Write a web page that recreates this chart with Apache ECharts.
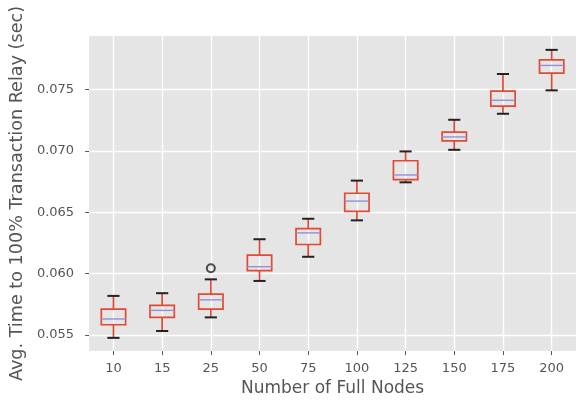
<!DOCTYPE html>
<html><head><meta charset="utf-8">
<script src="https://cdn.jsdelivr.net/npm/echarts@6/dist/echarts.min.js"></script>
<style>html,body{margin:0;padding:0;background:#fff}#c{width:576px;height:402px}</style>
</head><body><div id="c"></div>
<script>
const categories = ['10','15','25','50','75','100','125','150','175','200'];
const whiskerLow  = [0.05476, 0.05532, 0.05643, 0.05940, 0.06137, 0.06434, 0.06744, 0.07009, 0.07303, 0.07494];
const q1          = [0.05583, 0.05643, 0.05711, 0.06024, 0.06237, 0.06507, 0.06766, 0.07082, 0.07365, 0.07635];
const median      = [0.05630, 0.05700, 0.05786, 0.06056, 0.06332, 0.06591, 0.06804, 0.07114, 0.07413, 0.07697];
const q3          = [0.05711, 0.05740, 0.05832, 0.06150, 0.06366, 0.06655, 0.06920, 0.07154, 0.07487, 0.07743];
const whiskerHigh = [0.05818, 0.05840, 0.05953, 0.06280, 0.06447, 0.06758, 0.06996, 0.07254, 0.07627, 0.07824];
const outliers = [[2, 0.06043]];
const yTicks = [0.055, 0.060, 0.065, 0.070, 0.075];

const boxData = categories.map((c, i) => [i, whiskerLow[i], q1[i], median[i], q3[i], whiskerHigh[i]]);

const RED = '#E24A33', MED = '#988ED5', CAP = '#222222';
const FONT = 'DejaVu Sans';

function renderBox(params, api) {
  const x = api.value(0);
  const pLow = api.coord([x, api.value(1)]);
  const pQ1 = api.coord([x, api.value(2)]);
  const pMed = api.coord([x, api.value(3)]);
  const pQ3 = api.coord([x, api.value(4)]);
  const pHigh = api.coord([x, api.value(5)]);
  const band = api.size([1, 0])[0];
  const bw = band * 0.5, cw = bw / 2;
  const cx = pMed[0];
  return {
    type: 'group',
    children: [
      {type: 'line', shape: {x1: cx, y1: pQ3[1], x2: cx, y2: pHigh[1]}, style: {stroke: RED, lineWidth: 1.7}},
      {type: 'line', shape: {x1: cx, y1: pQ1[1], x2: cx, y2: pLow[1]}, style: {stroke: RED, lineWidth: 1.7}},
      {type: 'rect', shape: {x: cx - bw / 2, y: pQ3[1], width: bw, height: pQ1[1] - pQ3[1]}, style: {fill: 'none', stroke: RED, lineWidth: 1.7}},
      {type: 'line', shape: {x1: cx - bw / 2, y1: pMed[1], x2: cx + bw / 2, y2: pMed[1]}, style: {stroke: MED, lineWidth: 1.4}},
      {type: 'line', shape: {x1: cx - cw / 2, y1: pHigh[1], x2: cx + cw / 2, y2: pHigh[1]}, style: {stroke: CAP, lineWidth: 2}},
      {type: 'line', shape: {x1: cx - cw / 2, y1: pLow[1], x2: cx + cw / 2, y2: pLow[1]}, style: {stroke: CAP, lineWidth: 2}}
    ]
  };
}

const chart = echarts.init(document.getElementById('c'), null, {renderer: 'canvas'});
chart.setOption({
  backgroundColor: '#ffffff',
  animation: false,
  textStyle: {fontFamily: FONT},
  grid: {left: 87, top: 36, width: 494, height: 317, show: true, backgroundColor: '#E5E5E5', borderWidth: 0, containLabel: false},
  xAxis: {
    type: 'category', data: categories, boundaryGap: true,
    name: 'Number of Full Nodes', nameLocation: 'middle', nameGap: 27,
    nameTextStyle: {fontSize: 17, color: '#555555', fontFamily: FONT},
    axisLine: {show: false},
    axisTick: {show: true, alignWithLabel: true, length: 4, lineStyle: {color: '#555555'}},
    axisLabel: {fontSize: 13, color: '#555555', margin: 11, fontFamily: FONT},
    splitLine: {show: true, alignWithLabel: true, lineStyle: {color: '#ffffff', width: 1.4}}
  },
  yAxis: {
    type: 'value', min: 0.05368, max: 0.07937,
    name: 'Avg. Time to 100% Transaction Relay (sec)', nameLocation: 'middle', nameGap: 60,
    nameTextStyle: {fontSize: 17.6, color: '#555555', fontFamily: FONT},
    axisLine: {show: false},
    axisTick: {show: true, length: 4, lineStyle: {color: '#555555'}, customValues: yTicks},
    axisLabel: {fontSize: 13, color: '#555555', margin: 15, fontFamily: FONT, customValues: yTicks, formatter: v => v.toFixed(3)},
    splitLine: {show: true, lineStyle: {color: '#ffffff', width: 1.4}}
  },
  series: [
    {type: 'custom', data: boxData, encode: {x: 0, y: [1, 2, 3, 4, 5]}, renderItem: renderBox, z: 3},
    {type: 'scatter', data: outliers, symbol: 'circle', symbolSize: 8,
     itemStyle: {color: 'rgba(0,0,0,0)', borderColor: CAP, borderWidth: 2}, z: 4}
  ]
});
</script></body></html>
